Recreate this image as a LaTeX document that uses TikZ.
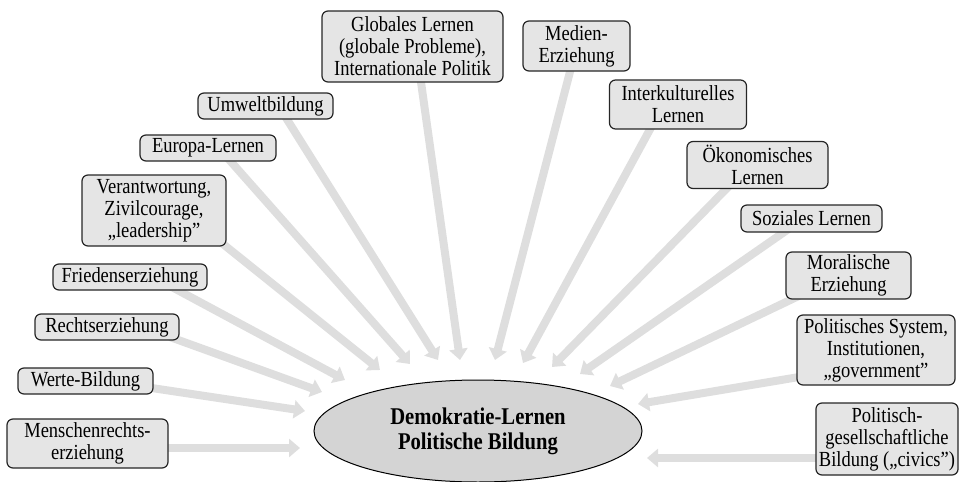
\documentclass[tikz,border=0pt]{standalone}
\usepackage{fontspec}
\setmainfont[FakeStretch=0.86]{Liberation Serif}
\usetikzlibrary{arrows.meta,shapes.geometric,backgrounds,calc}
\begin{document}
\begin{tikzpicture}[x=1pt,y=-1pt,
  box/.style={draw=black!85,line width=1.2pt,fill=black!10,rounded corners=6pt,align=center,inner xsep=3pt,inner ysep=1pt,font=\fontsize{21.5}{22}\selectfont},
  arr/.style={draw=black!13,line width=8pt,-{Triangle[width=18pt,length=11pt]}},
  core/.style={ellipse,draw=black,line width=1pt,fill=black!17,align=center,inner sep=0pt,font=\bfseries\fontsize{24}{25}\selectfont}
]
\useasboundingbox (0,0) rectangle (959,482);

\node[core,minimum width=328pt,minimum height=102pt] (c) at (478,431) {Demokratie-Lernen\\Politische Bildung};

\node[box,minimum width=161pt,minimum height=49pt] (mr) at (87.5,443.5) {Menschenrechts-\\erziehung};
\node[box,minimum width=135pt,minimum height=26pt] (wb) at (85.5,381) {Werte-Bildung};
\node[box,minimum width=144pt,minimum height=26pt] (re) at (107,327) {Rechtserziehung};
\node[box,minimum width=154pt,minimum height=26pt] (fr) at (130,277) {Friedenserziehung};
\node[box,minimum width=144pt,minimum height=71pt] (ve) at (154,210.5) {Verantwortung,\\Zivilcourage,\\„leadership”};
\node[box,minimum width=136pt,minimum height=26pt] (eu) at (208,148) {Europa-Lernen};
\node[box,minimum width=135pt,minimum height=26pt] (um) at (265.5,106) {Umweltbildung};
\node[box,minimum width=181pt,minimum height=71pt] (gl) at (412.5,46.5) {Globales Lernen\\(globale Probleme),\\Internationale Politik};
\node[box,minimum width=107pt,minimum height=50pt] (me) at (576.5,46) {Medien-\\Erziehung};
\node[box,minimum width=137pt,minimum height=49pt] (ik) at (678,104.5) {Interkulturelles\\Lernen};
\node[box,minimum width=141pt,minimum height=47pt] (ok) at (757.5,165) {Ökonomisches\\Lernen};
\node[box,minimum width=141pt,minimum height=27pt] (so) at (811.5,218.5) {Soziales Lernen};
\node[box,minimum width=125pt,minimum height=47pt] (mo) at (848.5,275.5) {Moralische\\Erziehung};
\node[box,minimum width=158pt,minimum height=70pt] (ps) at (876,350) {Politisches System,\\Institutionen,\\„government”};
\node[box,minimum width=140pt,minimum height=72pt] (pg) at (887,439) {Politisch-\\gesellschaftliche\\Bildung („civics”)};

\coordinate (t1) at (300,448);
\coordinate (t2) at (305,411);
\coordinate (t3) at (322,392);
\coordinate (t4) at (345,380);
\coordinate (t5) at (380,370);
\coordinate (t6) at (410,364);
\coordinate (t7) at (438,360);
\coordinate (t8) at (460,360);
\coordinate (t9) at (495,360);
\coordinate (t10) at (523,363);
\coordinate (t11) at (552,367);
\coordinate (t12) at (580,374);
\coordinate (t13) at (610,386);
\coordinate (t14) at (638,404);
\coordinate (t15) at (647,458);

\begin{scope}[on background layer]
\draw[arr] ($(mr)+(72.5,4.5)$) -- (t1);
\draw[arr] ($(wb)+(59.5,6)$) -- (t2);
\draw[arr] ($(re)+(63,10)$) -- (t3);
\draw[arr] ($(fr)+(40,9)$) -- (t4);
\draw[arr] ($(ve)+(64,29.5)$) -- (t5);
\draw[arr] ($(eu)+(17,7)$) -- (t6);
\draw[arr] ($(um)+(17.5,7)$) -- (t7);
\draw[arr] ($(gl)+(7.5,28.5)$) -- (t8);
\draw[arr] ($(me)+(-4.5,18)$) -- (t9);
\draw[arr] ($(ik)+(-24,17.5)$) -- (t10);
\draw[arr] ($(ok)+(-25.5,18)$) -- (t11);
\draw[arr] ($(so)+(-21.5,9.5)$) -- (t12);
\draw[arr] ($(mo)+(-43.5,17.5)$) -- (t13);
\draw[arr] ($(ps)+(-71,26)$) -- (t14);
\draw[arr] ($(pg)+(-62,19)$) -- (t15);
\end{scope}
\end{tikzpicture}
\end{document}
